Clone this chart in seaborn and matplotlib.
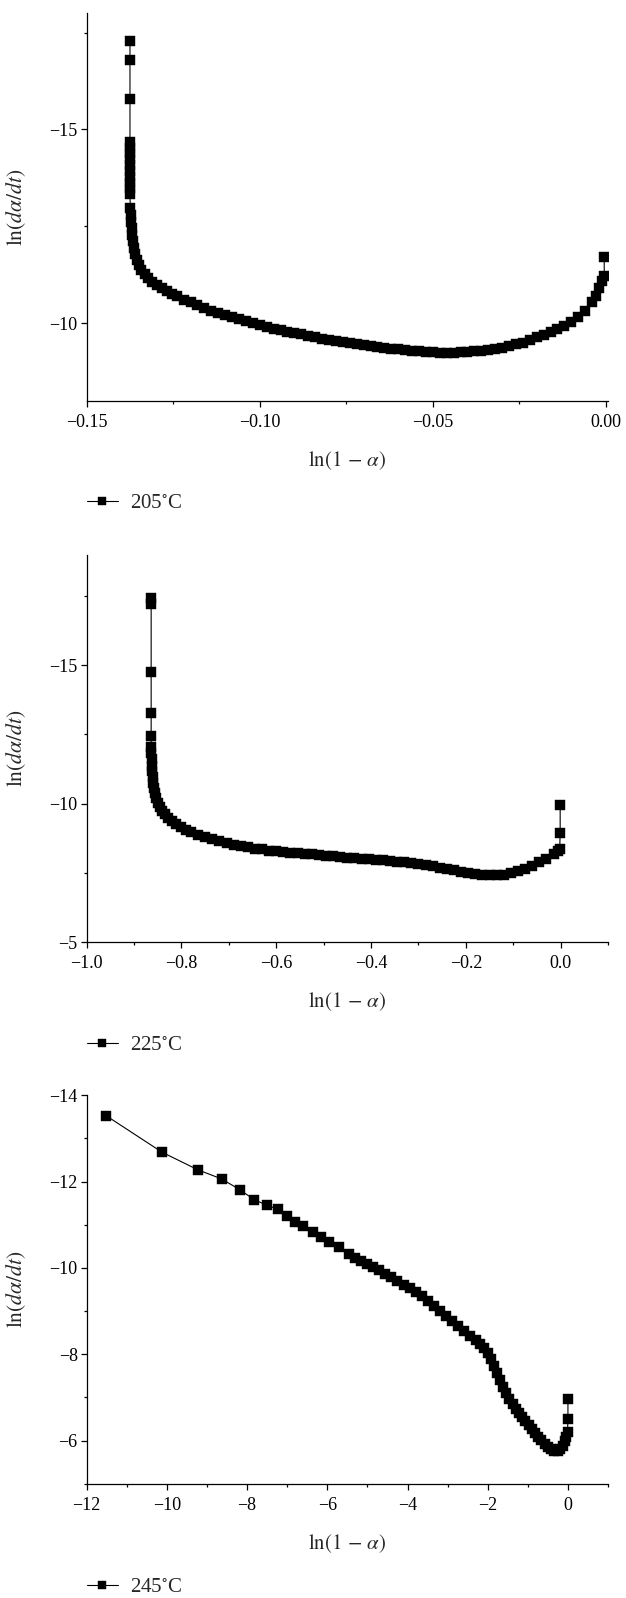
import matplotlib
matplotlib.use("Agg")
import matplotlib.pyplot as plt
from matplotlib.ticker import MultipleLocator, FuncFormatter
import seaborn as sns

# ln(1-alpha) / ln(dalpha/dt) readings, 205 C
x205 = [-0.1375, -0.1375, -0.1375,
        -0.1375, -0.1375, -0.1375, -0.1375, -0.1375, -0.1375, -0.1375, -0.1375, -0.1375, -0.1375,
        -0.1374, -0.1373, -0.1372, -0.1370, -0.1368, -0.1366, -0.1363, -0.1360, -0.1356, -0.1350,
        -0.1342, -0.1333, -0.1322, -0.1310, -0.1297, -0.1283, -0.1269, -0.1255,
        -0.124, -0.122, -0.120, -0.118, -0.116, -0.114, -0.112, -0.110, -0.108, -0.106,
        -0.104, -0.102, -0.100, -0.098, -0.096, -0.094, -0.092, -0.090, -0.088, -0.086,
        -0.084, -0.082, -0.080, -0.078, -0.076, -0.074, -0.072, -0.070, -0.068, -0.066,
        -0.064, -0.062, -0.060, -0.058, -0.056, -0.054, -0.052, -0.050, -0.048, -0.046,
        -0.044, -0.042, -0.040, -0.038, -0.036, -0.034, -0.032, -0.030, -0.028, -0.026,
        -0.024, -0.022, -0.020, -0.018, -0.016, -0.014, -0.012, -0.010, -0.008, -0.006,
        -0.004, -0.003, -0.002, -0.001, -0.0005, -0.0005]
y205 = [-17.28, -16.79, -15.78,
        -14.68, -14.53, -14.38, -14.23, -14.08, -13.93, -13.78, -13.63, -13.48, -13.34,
        -12.96, -12.79, -12.62, -12.45, -12.28, -12.11, -11.95, -11.79, -11.63, -11.49,
        -11.37, -11.26, -11.16, -11.07, -10.99, -10.91, -10.83, -10.76,
        -10.69, -10.61, -10.54, -10.46, -10.38, -10.32, -10.26, -10.21, -10.16, -10.11,
        -10.06, -10.00, -9.95, -9.89, -9.85, -9.82, -9.78, -9.75, -9.71, -9.67,
        -9.63, -9.60, -9.57, -9.53, -9.51, -9.48, -9.46, -9.44, -9.41, -9.39,
        -9.37, -9.34, -9.32, -9.30, -9.28, -9.27, -9.26, -9.25, -9.24, -9.24,
        -9.24, -9.25, -9.26, -9.27, -9.29, -9.31, -9.34, -9.37, -9.41, -9.45,
        -9.50, -9.56, -9.63, -9.70, -9.77, -9.85, -9.93, -10.03, -10.15, -10.32,
        -10.54, -10.70, -10.90, -11.08, -11.21, -11.71]

# 225 C
x225 = [-0.864, -0.864, -0.864, -0.864, -0.864,
        -0.864, -0.864, -0.863, -0.863, -0.862, -0.861, -0.860, -0.858, -0.856, -0.853,
        -0.850, -0.846, -0.841, -0.835, -0.828, -0.820, -0.811, -0.801, -0.791,
        -0.780, -0.765, -0.750, -0.735, -0.720, -0.705, -0.690, -0.675, -0.660, -0.645,
        -0.630, -0.615, -0.600, -0.585, -0.570, -0.555, -0.540, -0.525, -0.510, -0.495,
        -0.480, -0.465, -0.450, -0.435, -0.420, -0.405, -0.390, -0.375, -0.360, -0.345,
        -0.330, -0.315, -0.300, -0.285, -0.270, -0.255, -0.240, -0.225, -0.210, -0.195,
        -0.180, -0.165, -0.150, -0.135, -0.120, -0.105, -0.090, -0.075, -0.060, -0.045,
        -0.030, -0.015, -0.006, -0.002, -0.001, -0.001]
y225 = [-17.44, -17.21, -14.76, -13.26, -12.44,
        -12.05, -11.82, -11.60, -11.38, -11.17, -10.96, -10.76, -10.56, -10.37, -10.20,
        -10.04, -9.89, -9.75, -9.62, -9.49, -9.37, -9.26, -9.15, -9.06,
        -8.98, -8.88, -8.79, -8.71, -8.64, -8.58, -8.52, -8.47, -8.42, -8.38,
        -8.35, -8.31, -8.28, -8.25, -8.23, -8.21, -8.19, -8.17, -8.15, -8.12,
        -8.10, -8.07, -8.05, -8.03, -8.01, -7.99, -7.97, -7.95, -7.93, -7.91,
        -7.88, -7.85, -7.82, -7.78, -7.74, -7.69, -7.64, -7.59, -7.54, -7.50,
        -7.46, -7.43, -7.42, -7.42, -7.44, -7.49, -7.56, -7.66, -7.76, -7.88,
        -8.02, -8.17, -8.28, -8.35, -8.95, -9.97]

# 245 C
x245 = [-11.52, -10.12, -9.22, -8.63, -8.18, -7.82, -7.50, -7.24, -7.01, -6.80,
        -6.60, -6.36, -6.16, -5.95, -5.70, -5.45, -5.30, -5.15, -5.00, -4.85,
        -4.70, -4.55, -4.40, -4.25, -4.10, -3.95, -3.80, -3.65, -3.50, -3.35,
        -3.20, -3.05, -2.90, -2.75, -2.60, -2.45, -2.30, -2.20, -2.10, -2.00,
        -1.92, -1.85, -1.78, -1.70, -1.62, -1.54, -1.46, -1.38, -1.30, -1.22,
        -1.14, -1.06, -0.98, -0.90, -0.82, -0.74, -0.66, -0.58, -0.50, -0.42,
        -0.34, -0.26, -0.19, -0.13, -0.08, -0.04, -0.01, 0.00, 0.00]
y245 = [-13.53, -12.68, -12.27, -12.06, -11.81, -11.58, -11.45, -11.36, -11.21, -11.07,
        -10.97, -10.84, -10.72, -10.61, -10.48, -10.32, -10.23, -10.16, -10.10, -10.03,
        -9.95, -9.87, -9.78, -9.70, -9.61, -9.53, -9.44, -9.34, -9.23, -9.11,
        -9.00, -8.89, -8.78, -8.66, -8.55, -8.43, -8.32, -8.24, -8.15, -8.02,
        -7.88, -7.73, -7.57, -7.40, -7.24, -7.10, -6.97, -6.85, -6.74, -6.64,
        -6.54, -6.45, -6.36, -6.27, -6.18, -6.09, -6.01, -5.93, -5.86, -5.80,
        -5.77, -5.77, -5.81, -5.88, -5.98, -6.09, -6.20, -6.49, -6.96]

labels = ["205$^{\\circ}$C", "225$^{\\circ}$C", "245$^{\\circ}$C"]

sns.set_theme(style="ticks")
plt.rcParams["font.family"] = ["Liberation Serif", "DejaVu Serif"]
plt.rcParams["mathtext.fontset"] = "stix"
plt.rcParams["axes.edgecolor"] = "black"
plt.rcParams["xtick.color"] = "black"
plt.rcParams["ytick.color"] = "black"


def minus_fmt(fmt):
    # origin-style labels with a real minus sign
    return FuncFormatter(lambda v, pos: (fmt % v).replace("-", "\u2212"))


fig = plt.figure(figsize=(6.26, 15.98), dpi=100)

panels = [
    # data, axes rect, xlim, ylim(bottom, top), x major/minor, y major/minor
    (x205, y205, [0.1385, 0.7493, 0.8328, 0.2424], (-0.15, 0.0006), (-8, -18), 0.05, 0.025, 5, 2.5, "%.2f"),
    (x225, y225, [0.1385, 0.4104, 0.8328, 0.2426], (-1.0, 0.1), (-5, -19), 0.2, 0.1, 5, 2.5, "%.1f"),
    (x245, y245, [0.1385, 0.0715, 0.8328, 0.2431], (-12, 1), (-5, -14), 2, 1, 2, 1, "%d"),
]

for (xs, ys, rect, xl, yl, xmaj, xmin, ymaj, ymin, fmt), lab in zip(panels, labels):
    ax = fig.add_axes(rect)
    sns.lineplot(x=xs, y=ys, ax=ax, sort=False, estimator=None, color="black",
                 linewidth=0.8, marker="s", markersize=7.8, markeredgewidth=0.3,
                 markeredgecolor="black", label=lab)
    ax.set_xlim(*xl)
    ax.set_ylim(*yl)
    ax.xaxis.set_major_locator(MultipleLocator(xmaj))
    ax.xaxis.set_minor_locator(MultipleLocator(xmin))
    ax.yaxis.set_major_locator(MultipleLocator(ymaj))
    ax.yaxis.set_minor_locator(MultipleLocator(ymin))
    ax.xaxis.set_major_formatter(minus_fmt(fmt))
    ax.yaxis.set_major_formatter(minus_fmt("%d"))
    sns.despine(ax=ax)
    for s in ["left", "bottom"]:
        ax.spines[s].set_linewidth(0.9)
    ax.tick_params(which="major", direction="out", length=4.5, width=0.9, labelsize=13, pad=5)
    ax.tick_params(which="minor", direction="out", length=2.5, width=0.9)
    ax.tick_params(axis="y", which="major", pad=2)
    ax.set_xlabel(r"$\mathrm{ln}(1\,-\,\alpha)$", fontsize=15)
    ax.set_ylabel(r"$\mathrm{ln}(d\alpha/dt)$", fontsize=15.5)
    ax.xaxis.set_label_coords(0.5, -0.125)
    ax.yaxis.set_label_coords(-0.112, 0.5)
    ax.legend(loc="center left", bbox_to_anchor=(0.0, -0.266), frameon=False,
              numpoints=1, handlelength=1.5, handletextpad=0.6, borderaxespad=0,
              borderpad=0, fontsize=15, markerscale=0.8)

fig.savefig("out.png", dpi=100)
